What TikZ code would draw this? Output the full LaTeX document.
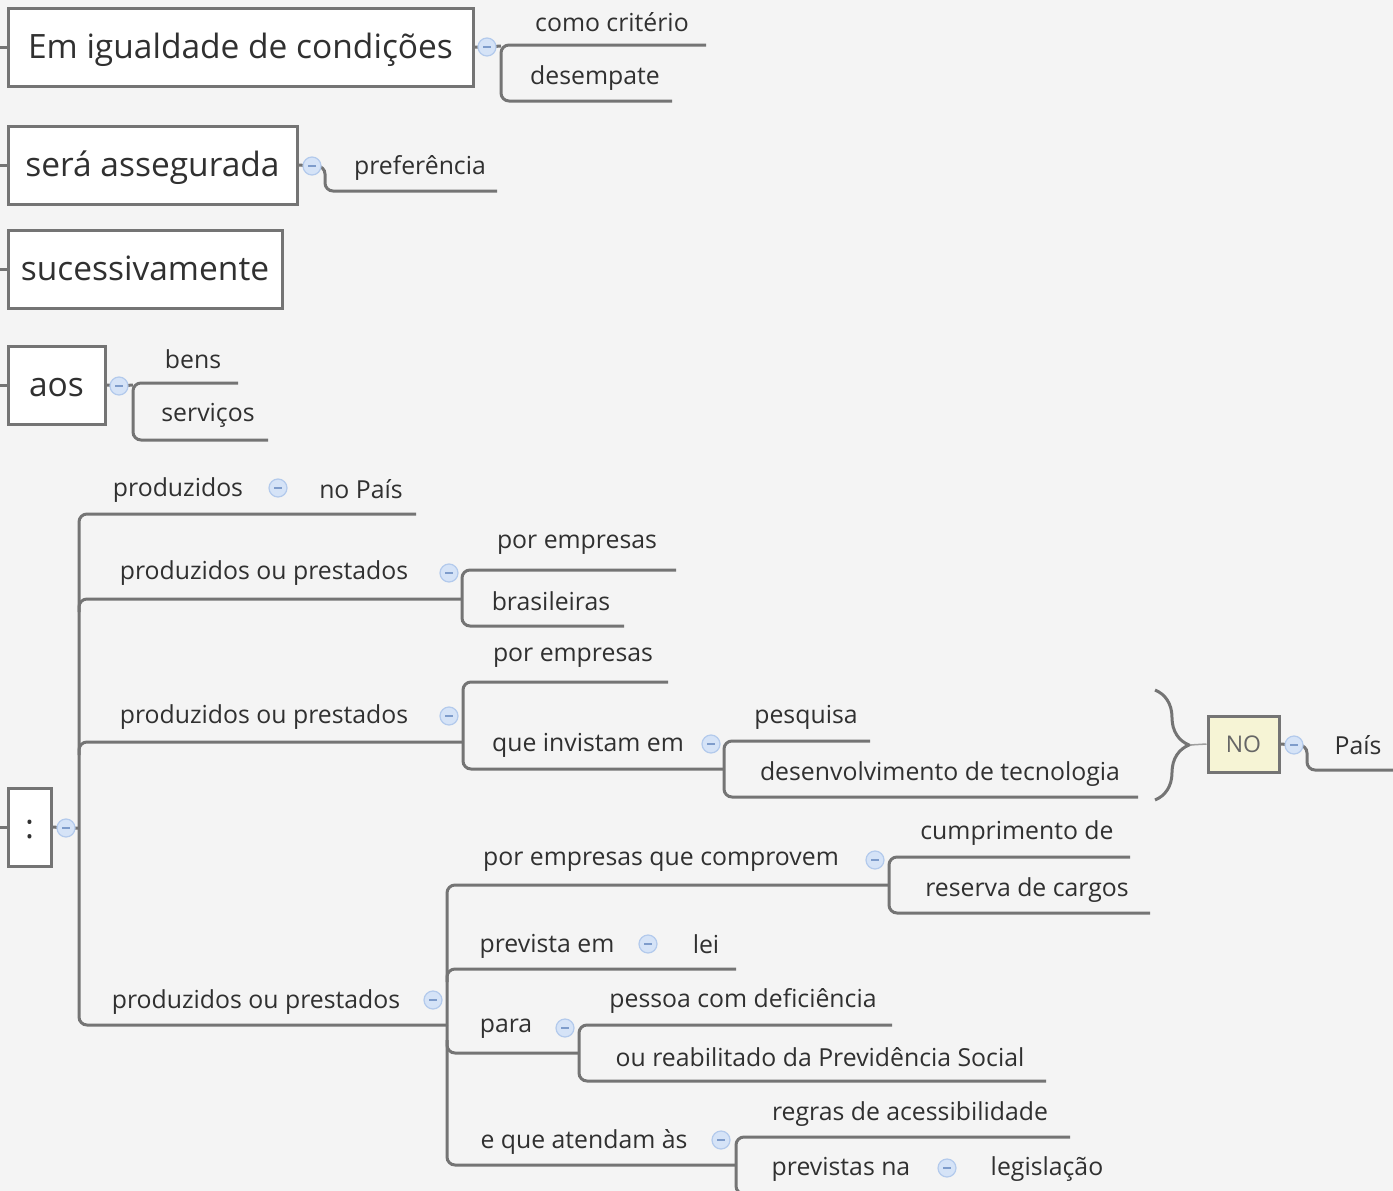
\documentclass[tikz,border=0pt]{standalone}
\usepackage{fontspec}
\setmainfont{Open Sans}
\usetikzlibrary{decorations.pathreplacing}
\definecolor{bg}{HTML}{F4F4F4}
\definecolor{ln}{HTML}{747474}
\definecolor{txt}{HTML}{303030}
\definecolor{cfill}{HTML}{D5E3F7}
\definecolor{cdraw}{HTML}{B3CAEC}
\definecolor{cminus}{HTML}{7E9CCB}
\definecolor{nofill}{HTML}{F6F4D5}
\begin{document}
\begin{tikzpicture}[x=1pt,y=-1pt,
  conn/.style={draw=ln, line width=3pt, rounded corners=8pt},
  bigbox/.style={draw=ln, fill=white, line width=3pt, inner sep=0pt, text=txt,
    font=\fontsize{33.5}{38}\selectfont, text height=23pt, text depth=0pt},
  sm/.style={text=txt, font=\fontsize{24.8}{29}\selectfont, inner sep=0pt, anchor=base},
  circ/.style={circle, minimum size=18pt, inner sep=0pt, draw=cdraw, fill=cfill, line width=1.2pt,
    path picture={\draw[cminus, line width=1.6pt] ([xshift=-4pt]path picture bounding box.center) -- ([xshift=4pt]path picture bounding box.center);}},
  ]
\fill[bg] (0,0) rectangle (1393,1191);
\useasboundingbox (0,0) rectangle (1393,1191);
\clip (0,0) rectangle (1393,1191);

% ---------- boxes ----------
\node[bigbox, minimum width=465pt, minimum height=78pt] (box1) at (240.5,47) {Em igualdade de condições};
\node[bigbox, minimum width=289pt, minimum height=78pt] (box2) at (152.5,165) {será assegurada};
\node[bigbox, minimum width=274pt, minimum height=78pt] (box3) at (145,269) {sucessivamente};
\node[bigbox, minimum width=97pt, minimum height=78pt] (box4) at (56.5,385) {aos};
\node[bigbox, minimum width=43pt, minimum height=78pt] (box5) at (29.5,827) {:};
\node[draw=ln, fill=nofill, line width=3pt, minimum width=71pt, minimum height=56pt, inner sep=0pt,
  text=black!60, font=\fontsize{23}{27}\selectfont, text height=16pt, text depth=0pt] (no) at (1243.5,744) {NO};

% stubs on the left
\coordinate (s1) at (0,47);
\coordinate (s2) at (0,165);
\coordinate (s3) at (0,269);
\coordinate (s4) at (0,385);
\coordinate (s5) at (0,827);
\draw[conn] (s1) -- (box1.west);
\draw[conn] (s2) -- (box2.west);
\draw[conn] (s3) -- (box3.west);
\draw[conn] (s4) -- (box4.west);
\draw[conn] (s5) -- (box5.west);

% ---------- collapse circle positions ----------
\coordinate (k1) at (487,47);
\coordinate (k2) at (312,166);
\coordinate (k4) at (119,386);
\coordinate (k5) at (66,828);
\coordinate (kc1) at (278,488);
\coordinate (kc2) at (449,573);
\coordinate (kc3) at (449,716);
\coordinate (kq) at (711,744);
\coordinate (kno) at (1294,745);
\coordinate (kc4) at (433,1000);
\coordinate (kpe) at (875,860);
\coordinate (kpr) at (648,944);
\coordinate (kpa) at (565,1028);
\coordinate (ke) at (721,1140);
\coordinate (kpn) at (947,1168);

% ---------- connectors ----------
% box1
\draw[conn] (box1.east) -- (k1) -- (501,46);
\draw[conn] (706,45) -- (501,45) -- (501,101) -- (672,101);
% box2
\draw[conn] (box2.east) -- (k2) -- (325,166) -- (325,191) -- (497,191);
% box4
\draw[conn] (box4.east) -- (k4) -- (133,385);
\draw[conn] (238,383) -- (133,383) -- (133,440) -- (268,440);
% box5 main spine
\draw[conn] (box5.east) -- (k5) -- (79,828);
\draw[conn] (416,514) -- (79,514) -- (79,1025) -- (447,1025);
\draw[conn] (79,612) -- (79,599) -- (462,599);
\draw[conn] (79,755) -- (79,742) -- (463,742);
% c2
\draw[conn] (676,570) -- (462,570) -- (462,626) -- (624,626);
% c3
\draw[conn] (668,682) -- (463,682) -- (463,769) -- (724,769);
\draw[conn] (870,741) -- (724,741) -- (724,797) -- (1138,797);
% c4
\draw[conn] (447,1025) -- (447,885) -- (889,885);
\draw[conn] (447,1025) -- (447,1165) -- (736,1165);
\draw[conn] (447,982) -- (447,969) -- (736,969);
\draw[conn] (447,1040) -- (447,1053) -- (579,1053);
\draw[conn] (1130,857) -- (889,857) -- (889,913) -- (1150,913);
\draw[conn] (892,1025) -- (579,1025) -- (579,1081) -- (1046,1081);
\draw[conn] (1070,1137) -- (736,1137) -- (736,1194) -- (1120,1194);
% brace and NO
\coordinate (bt) at (1155,690);
\coordinate (bb) at (1155,800);
\coordinate (btip) at (1190,745);
\draw[ln, line width=3pt, decorate, decoration={brace, amplitude=34pt, aspect=0.5}] (bt) -- (bb);
\draw[draw=ln!70, line width=1.5pt] (btip) -- (no.west);
\draw[conn] (no.east) -- (kno) -- (1307,745) -- (1307,770) -- (1393,770);

% circles drawn on top
\foreach \k in {k1,k2,k4,k5,kc1,kc2,kc3,kq,kno,kc4,kpe,kpr,kpa,ke,kpn}
  \node[circ] (c-\k) at (\k) {};

% ---------- labels ----------
\node[sm] (t-como) at (612,31) {como critério};
\node[sm] (t-desemp) at (595,84) {desempate};
\node[sm] (t-pref) at (420,174) {preferência};
\node[sm] (t-bens) at (193,368) {bens};
\node[sm] (t-serv) at (208,421) {serviços};
\node[sm] (t-prod) at (178,496) {produzidos};
\node[sm] (t-nopais) at (361,498) {no País};
\node[sm] (t-pp2) at (264,579) {produzidos ou prestados};
\node[sm] (t-pe2) at (577,548) {por empresas};
\node[sm] (t-bras) at (551,610) {brasileiras};
\node[sm] (t-pp3) at (264,723) {produzidos ou prestados};
\node[sm] (t-pe3) at (573,661) {por empresas};
\node[sm] (t-qie) at (588,751) {que invistam em};
\node[sm] (t-pesq) at (806,723) {pesquisa};
\node[sm] (t-dev) at (940,780) {desenvolvimento de tecnologia};
\node[sm] (t-pais) at (1358,754) {País};
\node[sm] (t-pp4) at (256,1008) {produzidos ou prestados};
\node[sm] (t-peqc) at (661,865) {por empresas que comprovem};
\node[sm] (t-cump) at (1017,839) {cumprimento de};
\node[sm] (t-res) at (1027,896) {reserva de cargos};
\node[sm] (t-prev) at (547,952) {prevista em};
\node[sm] (t-lei) at (706,953) {lei};
\node[sm] (t-para) at (506,1032) {para};
\node[sm] (t-pcd) at (743,1007) {pessoa com deficiência};
\node[sm] (t-reab) at (820,1066) {ou reabilitado da Previdência Social};
\node[sm] (t-eqa) at (584,1148) {e que atendam às};
\node[sm] (t-regras) at (910,1120) {regras de acessibilidade};
\node[sm] (t-pna) at (841,1175) {previstas na};
\node[sm] (t-leg) at (1047,1175) {legislação};
\end{tikzpicture}
\end{document}
